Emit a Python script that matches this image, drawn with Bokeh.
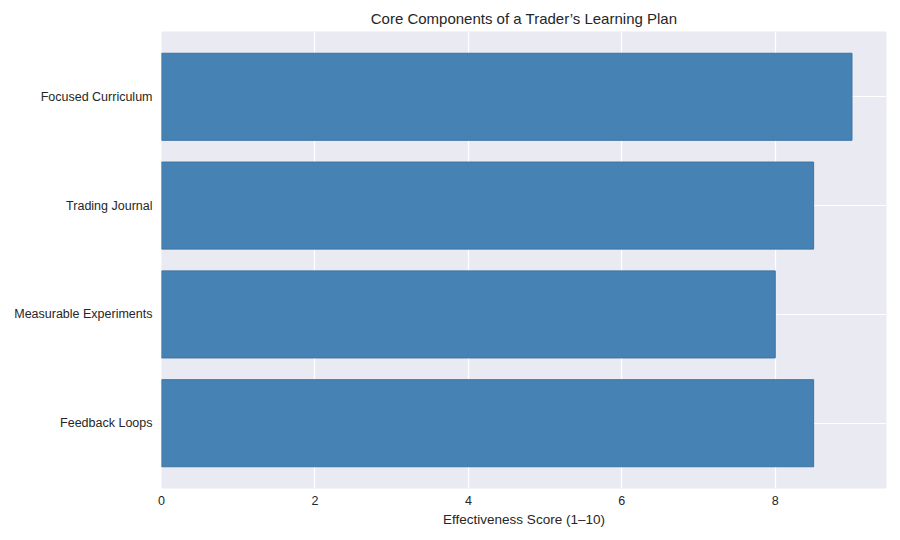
from bokeh.plotting import figure
from bokeh.models import FactorRange, Range1d, FixedTicker
from bokeh.embed import file_html
from bokeh.resources import INLINE

categories = ["Focused Curriculum", "Trading Journal", "Measurable Experiments", "Feedback Loops"]
scores = [9.0, 8.5, 8.0, 8.5]
x_ticks = [0, 2, 4, 6, 8]

FONT = "Liberation Sans"
TXT = "#262626"

factors = list(reversed(categories))
p = figure(
    width=900, height=540,
    y_range=FactorRange(factors=factors, range_padding=0.1, range_padding_units="absolute"),
    x_range=Range1d(0, 9.45),
    output_backend="svg", toolbar_location=None,
    title="Core Components of a Trader\u2019s Learning Plan",
    min_border_left=161, min_border_right=14, min_border_top=31, min_border_bottom=52,
)
p.background_fill_color = "#EAEAF2"
p.border_fill_color = "white"
p.outline_line_color = None

p.hbar(y=categories, right=scores, left=0, height=0.8,
       fill_color="#4682B4", line_color="#3A73A3", line_width=1)

p.title.align = "center"
p.title.text_font = FONT
p.title.text_font_size = "15px"
p.title.text_font_style = "normal"
p.title.text_color = TXT

p.xgrid.grid_line_color = "white"
p.xgrid.grid_line_width = 1.2
p.ygrid.grid_line_color = "white"
p.ygrid.grid_line_width = 1.2

for ax in (p.xaxis[0], p.yaxis[0]):
    ax.axis_line_color = None
    ax.major_tick_line_color = None
    ax.minor_tick_line_color = None
    ax.major_tick_out = 0
    ax.major_tick_in = 0
    ax.major_label_text_font = FONT
    ax.major_label_text_font_size = "12.5px"
    ax.major_label_text_color = TXT

p.xaxis.ticker = FixedTicker(ticks=x_ticks)
p.xaxis.major_label_standoff = 7
p.xaxis.axis_label = "Effectiveness Score (1\u201310)"
p.xaxis.axis_label_text_font = FONT
p.xaxis.axis_label_text_font_size = "13.5px"
p.xaxis.axis_label_text_font_style = "normal"
p.xaxis.axis_label_text_color = TXT
p.xaxis.axis_label_standoff = 4
p.yaxis.major_label_standoff = 9

open("out.html", "w").write(file_html(p, INLINE))
